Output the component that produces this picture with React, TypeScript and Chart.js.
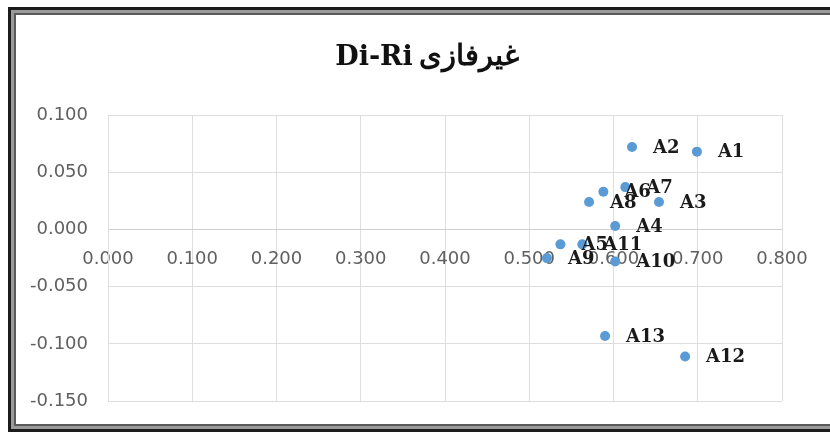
import React, { useEffect, useRef } from "react";
import { Chart, registerables } from "chart.js";

Chart.register(...registerables);

const pointNames = ["A1", "A2", "A3", "A4", "A5", "A6", "A7", "A8", "A9", "A10", "A11", "A12", "A13"];
const xValues = [0.699, 0.622, 0.654, 0.602, 0.537, 0.588, 0.614, 0.571, 0.521, 0.602, 0.563, 0.685, 0.590];
const yValues = [0.068, 0.072, 0.024, 0.003, -0.013, 0.033, 0.037, 0.024, -0.025, -0.028, -0.013, -0.111, -0.093];
const titleArabic = "غیرفازی";
const titleLatin = "Di-Ri";
const xTickMin = 0;
const xTickMax = 0.8;
const xTickStep = 0.1;
const yTickMin = -0.15;
const yTickMax = 0.1;
const yTickStep = 0.05;

const fmt = (v: number) => (Math.abs(v) < 1e-9 ? 0 : v).toFixed(3);

const labelPlugin = {
  id: "pointLabels",
  afterDatasetsDraw(chart: any) {
    const ctx = chart.ctx;
    const meta = chart.getDatasetMeta(0);
    ctx.save();
    ctx.font = "bold 18px 'DejaVu Serif', serif";
    ctx.fillStyle = "#1a1a1a";
    ctx.textAlign = "left";
    ctx.textBaseline = "middle";
    meta.data.forEach((el: any, i: number) => {
      ctx.fillText(pointNames[i], el.x + 21, el.y + 1);
    });
    ctx.restore();
  },
};

// Title reads (RTL): "غیرفازی Di-Ri" -> visually "Di-Ri" on the left, Arabic on the right.
const titlePlugin = {
  id: "rtlTitle",
  afterDraw(chart: any) {
    const ctx = chart.ctx;
    ctx.save();
    const latinFont = "bold 27px 'DejaVu Serif', serif";
    const arabicFont = "bold 29px 'DejaVu Serif', serif";
    ctx.font = latinFont;
    const wL = ctx.measureText(titleLatin).width;
    ctx.font = arabicFont;
    const wA = ctx.measureText(titleArabic).width;
    const gap = 6;
    const total = wL + gap + wA;
    const cx = 427;
    const x0 = cx - total / 2;
    ctx.fillStyle = "#111";
    ctx.textBaseline = "alphabetic";
    ctx.textAlign = "left";
    ctx.font = latinFont;
    ctx.fillText(titleLatin, x0, 65);
    ctx.font = arabicFont;
    ctx.fillText(titleArabic, x0 + wL + gap, 65);
    ctx.restore();
  },
};

export default function App() {
  const ref = useRef<HTMLCanvasElement | null>(null);
  useEffect(() => {
    if (!ref.current) return;
    const data = xValues.map((x, i) => ({ x, y: yValues[i] }));
    const chart = new Chart(ref.current, {
      type: "scatter",
      data: {
        datasets: [
          {
            label: "Di-Ri",
            data,
            backgroundColor: "#5B9BD5",
            borderColor: "#5B9BD5",
            pointRadius: 5,
            pointBorderWidth: 0,
          },
        ],
      },
      options: {
        responsive: false,
        animation: false,
        devicePixelRatio: 1,
        layout: { padding: { top: 115, left: 0, right: 48, bottom: 24 } },
        plugins: {
          legend: { display: false },
          title: { display: false },
          tooltip: { enabled: false },
        },
        scales: {
          x: {
            type: "linear",
            position: { y: 0 } as any,
            min: xTickMin,
            max: xTickMax,
            ticks: {
              stepSize: xTickStep,
              padding: 19,
              color: "#606060",
              font: { family: "'DejaVu Sans', sans-serif", size: 18 },
              callback: (v: any) => fmt(Number(v)),
              maxRotation: 0,
              autoSkip: false,
            },
            grid: { color: "#dedede", drawTicks: false, lineWidth: 1 },
            border: { color: "#cfcfcf" },
          },
          y: {
            type: "linear",
            min: yTickMin,
            max: yTickMax,
            afterFit: (scale: any) => {
              scale.width = 108;
            },
            ticks: {
              stepSize: yTickStep,
              padding: 20,
              color: "#606060",
              font: { family: "'DejaVu Sans', sans-serif", size: 18 },
              callback: (v: any) => fmt(Number(v)),
            },
            grid: { color: "#dedede", drawTicks: false, lineWidth: 1 },
            border: { color: "#dedede" },
          },
        },
      },
      plugins: [labelPlugin, titlePlugin],
    });
    return () => chart.destroy();
  }, []);

  return (
    <div style={{ position: "fixed", left: 0, top: 0, width: 830, height: 432, background: "#fff", overflow: "hidden" }}>
      <canvas ref={ref} width={830} height={432} style={{ position: "absolute", left: 0, top: 0, width: 830, height: 432 }} />
      <div
        style={{
          position: "absolute",
          left: 8,
          top: 7,
          width: 840,
          height: 425,
          boxSizing: "border-box",
          border: "3px solid #1c1c1c",
          boxShadow: "inset 0 0 0 3px #9a9a9a, inset 0 0 0 5px #5a5a5a",
          pointerEvents: "none",
        }}
      />
    </div>
  );
}
